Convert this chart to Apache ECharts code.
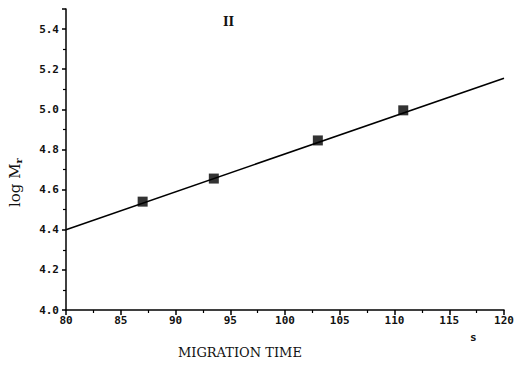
<!DOCTYPE html>
<html>
<head>
<meta charset="utf-8">
<script src="https://cdn.jsdelivr.net/npm/echarts@6/dist/echarts.min.js"></script>
<style>
  html, body { margin: 0; padding: 0; background: #fff; }
  #chart { width: 517px; height: 367px; }
</style>
</head>
<body>
<div id="chart"></div>
<script>
// migration time (s) vs log Mr
const migrationTime = [87, 93.5, 103, 110.8]
const logMr = [4.54, 4.655, 4.845, 4.995]
// fitted line ends
const fitX = [80, 120]
const fitY = [4.40, 5.155]

const chart = echarts.init(document.getElementById('chart'), null, { renderer: 'svg' })
const tickFont = {
  color: '#111',
  fontSize: 11,
  fontFamily: 'DejaVu Sans Mono',
  fontWeight: 'bold'
}

const option = {
  animation: false,
  grid: {
    left: 66,
    right: 13,
    top: 9,
    bottom: 57,
    outerBoundsMode: 'none'
  },
  xAxis: {
    type: 'value',
    min: 80,
    max: 120,
    interval: 5,
    axisLine: { show: true, lineStyle: { color: '#000', width: 1.5 } },
    axisTick: { show: true, length: 5, lineStyle: { color: '#000', width: 1.5 } },
    minorTick: { show: true, splitNumber: 2, length: 3, lineStyle: { color: '#000', width: 1.2 } },
    splitLine: { show: false },
    axisLabel: Object.assign({ margin: 5 }, tickFont)
  },
  yAxis: {
    type: 'value',
    min: 4.0,
    max: 5.5,
    interval: 0.2,
    axisLine: { show: true, lineStyle: { color: '#000', width: 1.5 } },
    axisTick: { show: true, length: 4, lineStyle: { color: '#000', width: 1.5 } },
    minorTick: { show: true, splitNumber: 2, length: 3, lineStyle: { color: '#000', width: 1.2 } },
    splitLine: { show: false },
    axisLabel: Object.assign({
      margin: 7,
      showMaxLabel: false,
      formatter: function (v) { return v.toFixed(1) }
    }, tickFont)
  },
  graphic: [
    {
      type: 'text',
      left: 178,
      top: 346,
      style: {
        text: 'MIGRATION TIME',
        font: '13px "DejaVu Serif"',
        fill: '#111'
      }
    },
    {
      type: 'text',
      left: 470,
      top: 332,
      style: {
        text: 's',
        font: 'bold 11px "DejaVu Sans Mono"',
        fill: '#111'
      }
    },
    {
      type: 'text',
      left: 223,
      top: 16,
      style: {
        text: 'II',
        font: 'bold 12px "DejaVu Serif"',
        fill: '#111'
      }
    },
    {
      type: 'text',
      x: 7,
      y: 207,
      rotation: Math.PI / 2,
      style: {
        text: '{a|log M}{b|r}',
        fill: '#111',
        rich: {
          a: { font: '15px "DejaVu Serif"', fill: '#111' },
          b: { font: 'bold 10px "DejaVu Serif"', fill: '#111', padding: [6, 0, 0, 0] }
        }
      }
    }
  ],
  series: [
    {
      name: 'fit',
      type: 'line',
      data: fitX.map((x, i) => [x, fitY[i]]),
      showSymbol: false,
      lineStyle: { color: '#000', width: 1.6 },
      z: 2
    },
    {
      name: 'data',
      type: 'scatter',
      data: migrationTime.map((x, i) => [x, logMr[i]]),
      symbol: 'rect',
      symbolSize: 10,
      itemStyle: { color: '#000' },
      z: 3
    }
  ]
}
chart && chart.setOption(option)
</script>
</body>
</html>
